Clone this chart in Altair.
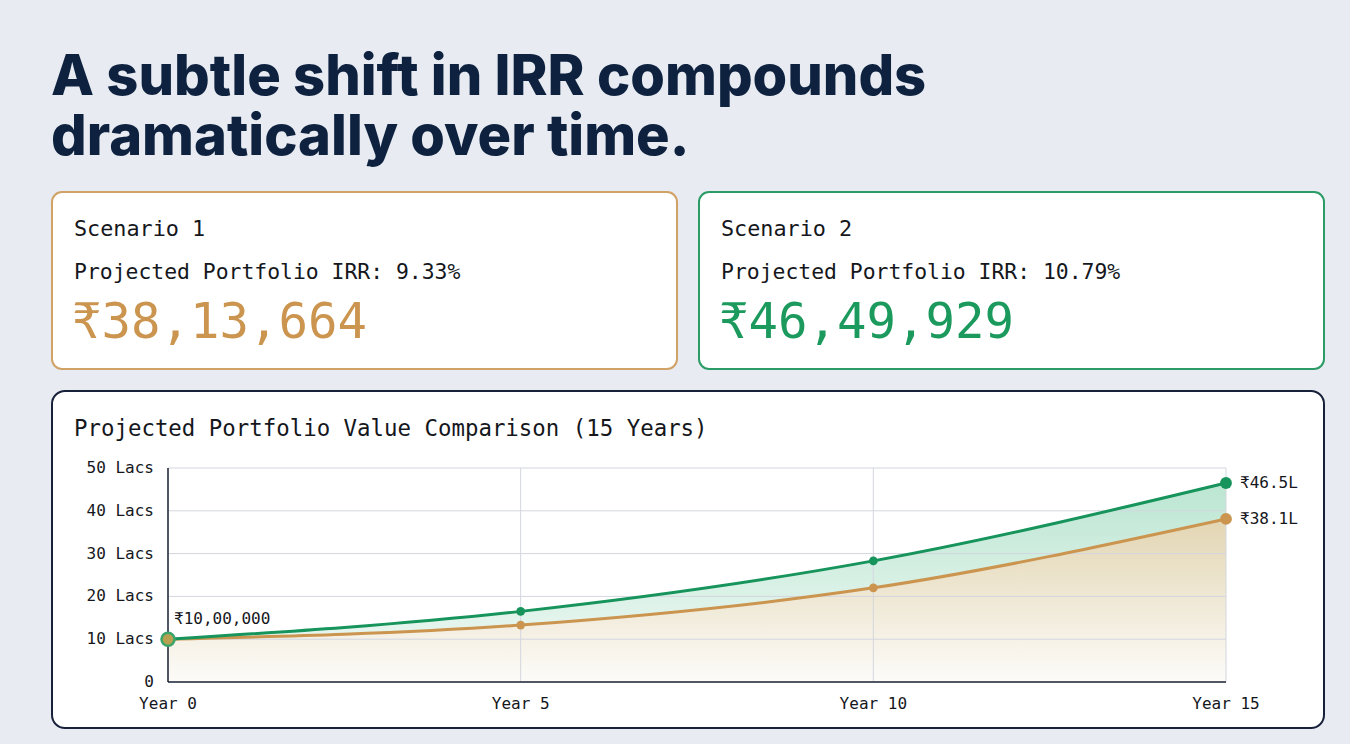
import altair as alt
import pandas as pd

# ---- data ----
years = [0, 5, 10, 15]
scenario1 = [10.0, 13.3, 22.0, 38.1]   # Lacs
scenario2 = [10.0, 16.5, 28.3, 46.5]   # Lacs
y_ticks = [0, 10, 20, 30, 40, 50]
y_labels = ["0", "10 Lacs", "20 Lacs", "30 Lacs", "40 Lacs", "50 Lacs"]
x_ticks = [0, 5, 10, 15]
x_labels = ["Year 0", "Year 5", "Year 10", "Year 15"]
end_labels = ["₹38.1L", "₹46.5L"]
start_label = "₹10,00,000"

title_lines = ["A subtle shift in IRR compounds", "dramatically over time."]
card_names = ["Scenario 1", "Scenario 2"]
card_irrs = ["Projected Portfolio IRR: 9.33%", "Projected Portfolio IRR: 10.79%"]
card_values = ["₹38,13,664", "₹46,49,929"]
chart_title = "Projected Portfolio Value Comparison (15 Years)"

# ---- styles ----
GREEN = "#16945b"
ORANGE = "#cb954f"
MONO = "DejaVu Sans Mono"
TXT = "#15171c"

xs = alt.Scale(domain=[0, 15], range=[168, 1226])
ys = alt.Scale(domain=[0, 50], range=[682, 468])

df1 = pd.DataFrame({"year": years, "value": scenario1, "base": [0] * 4})
df2 = pd.DataFrame({"year": years, "value": scenario2, "base": [0] * 4})
band = pd.DataFrame({"year": years, "top": scenario2, "bottom": scenario1})
ends = pd.DataFrame({"year": [15, 15], "value": [scenario1[-1], scenario2[-1]], "label": end_labels})
yt = pd.DataFrame({"v": y_ticks, "label": y_labels, "x0": [0] * 6, "x1": [15] * 6})
xt = pd.DataFrame({"v": x_ticks, "label": x_labels, "y0": [0] * 4, "y1": [50] * 4})
one = pd.DataFrame({"a": [0]})


def X(f):
    return alt.X(f, type="quantitative", scale=xs, axis=None)


def Y(f):
    return alt.Y(f, type="quantitative", scale=ys, axis=None)


layers = []


def card(x0, x1, y0, y1, stroke, sw, r):
    return alt.Chart(one).mark_rect(fill="white", stroke=stroke, strokeWidth=sw, cornerRadius=r).encode(
        x=alt.value(x0), x2=alt.value(x1), y=alt.value(y0), y2=alt.value(y1))


def label(txt, x, y, size, color=TXT, font=MONO, weight="normal"):
    return alt.Chart(one).mark_text(text=txt, font=font, fontSize=size, color=color, fontWeight=weight,
                                    align="left", baseline="alphabetic").encode(x=alt.value(x), y=alt.value(y))


layers.append(card(52, 677, 192, 369, "#d1a266", 2, 10))
layers.append(card(699, 1324, 192, 369, "#2c9c67", 2, 10))
layers.append(card(52, 1324, 391, 728, "#17213a", 2, 13))

# title (one two-line text)
layers.append(alt.Chart(one).mark_text(text=title_lines, font="Inter", fontSize=56, fontWeight=800,
              color="#0e2240", align="left", baseline="alphabetic", lineHeight=60).encode(
              x=alt.value(51), y=alt.value(95)))

for i, (x0, col) in enumerate(zip([74, 721], [ORANGE, "#1c9a5d"])):
    layers.append(label(card_names[i], x0, 236, 21.8))
    layers.append(label(card_irrs[i], x0, 279, 21.4))
    layers.append(label(card_values[i], x0 - 2, 338, 49, col))

layers.append(label(chart_title, 74, 436, 22.4))

green_grad = alt.Gradient(gradient="linear", x1=1, x2=1, y1=1, y2=0, stops=[
    alt.GradientStop(color="rgba(30,170,105,0.10)", offset=0),
    alt.GradientStop(color="rgba(30,170,105,0.30)", offset=1)])
orange_grad = alt.Gradient(gradient="linear", x1=1, x2=1, y1=1, y2=0, stops=[
    alt.GradientStop(color="rgba(195,168,95,0.04)", offset=0),
    alt.GradientStop(color="rgba(195,168,95,0.48)", offset=1)])

layers.append(alt.Chart(df1).mark_area(interpolate="monotone", color=orange_grad).encode(
    x=X("year"), y=Y("value"), y2="base"))
layers.append(alt.Chart(band).mark_area(interpolate="monotone", color=green_grad).encode(
    x=X("year"), y=Y("top"), y2="bottom"))

# grid
layers.append(alt.Chart(yt).mark_rule(color="#d3d6de", strokeWidth=1).encode(
    y=Y("v"), x=X("x0"), x2="x1"))
layers.append(alt.Chart(xt).mark_rule(color="#d3d6de", strokeWidth=1).encode(
    x=X("v"), y=Y("y0"), y2="y1"))
# axis lines
layers.append(alt.Chart(xt.iloc[[0]]).mark_rule(color="#1e2535", strokeWidth=1.5).encode(
    x=X("v"), y=Y("y0"), y2="y1"))
layers.append(alt.Chart(yt.iloc[[0]]).mark_rule(color="#1e2535", strokeWidth=1.5).encode(
    y=Y("v"), x=X("x0"), x2="x1"))

# lines
layers.append(alt.Chart(df1).mark_line(interpolate="monotone", color=ORANGE, strokeWidth=3).encode(
    x=X("year"), y=Y("value")))
layers.append(alt.Chart(df2).mark_line(interpolate="monotone", color=GREEN, strokeWidth=3).encode(
    x=X("year"), y=Y("value")))

# points
mid1 = df1[(df1.year > 0) & (df1.year < 15)]
mid2 = df2[(df2.year > 0) & (df2.year < 15)]
layers.append(alt.Chart(mid1).mark_circle(color=ORANGE, size=75, opacity=1).encode(x=X("year"), y=Y("value")))
layers.append(alt.Chart(mid2).mark_circle(color=GREEN, size=75, opacity=1).encode(x=X("year"), y=Y("value")))
layers.append(alt.Chart(df1[df1.year == 15]).mark_circle(color=ORANGE, size=140, opacity=1).encode(x=X("year"), y=Y("value")))
layers.append(alt.Chart(df2[df2.year == 15]).mark_circle(color=GREEN, size=140, opacity=1).encode(x=X("year"), y=Y("value")))
layers.append(alt.Chart(df1[df1.year == 0]).mark_point(filled=True, fill="#b9a050", stroke="#3aa56a",
              strokeWidth=2.5, size=170, opacity=1).encode(x=X("year"), y=Y("value")))

# labels
layers.append(alt.Chart(ends).mark_text(font=MONO, fontSize=16, color=TXT, align="left",
              baseline="middle", dx=14).encode(x=X("year"), y=Y("value"), text="label:N"))
layers.append(alt.Chart(df1[df1.year == 0]).mark_text(text=start_label, font=MONO, fontSize=16, color=TXT,
              align="left", baseline="middle", dx=6, dy=-20).encode(x=X("year"), y=Y("value")))
layers.append(alt.Chart(yt).mark_text(font=MONO, fontSize=16, color=TXT, align="right",
              baseline="middle", dx=-14).encode(y=Y("v"), x=X("x0"), text="label:N"))
layers.append(alt.Chart(xt).mark_text(font=MONO, fontSize=16, color=TXT, align="center",
              baseline="middle", dy=22).encode(x=X("v"), y=Y("y0"), text="label:N"))

chart = alt.layer(*layers).properties(
    width=1350, height=744, padding=0, autosize=alt.AutoSizeParams(type="none"),
    background="#e8ecf2"
).configure_view(stroke=None)

chart.save("out.html", embed_options={"renderer": "svg", "actions": False})
